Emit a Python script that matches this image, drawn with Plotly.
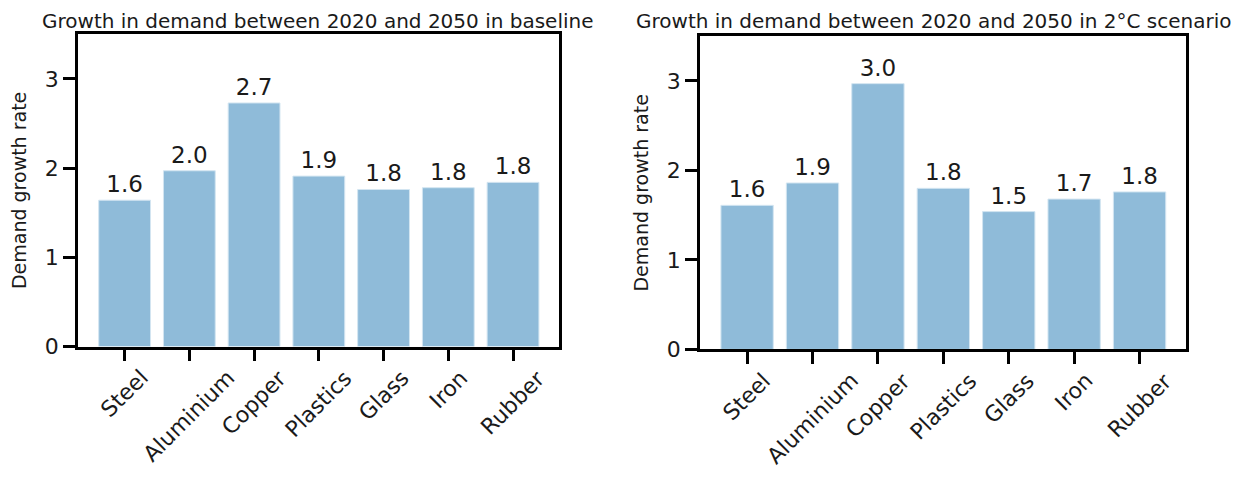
import plotly.graph_objects as go

categories = ["Steel", "Aluminium", "Copper", "Plastics", "Glass", "Iron", "Rubber"]
baseline = [1.64, 1.97, 2.73, 1.91, 1.76, 1.78, 1.84]
two_degree = [1.61, 1.86, 2.97, 1.80, 1.54, 1.68, 1.76]
panel_titles = [
    "Growth in demand between 2020 and 2050 in baseline",
    "Growth in demand between 2020 and 2050 in 2°C scenario",
]
y_ticks = [0, 1, 2, 3]
y_label = "Demand growth rate"

W, H = 1239, 477
FONT = "DejaVu Sans"
BAR_COLOR = "#8fbbd9"
TXT = "#1a1a1a"

# panel geometry in pixels: (left, right, top, bottom, title centre)
panels = [(70, 551, 27, 348, 310), (692, 1178, 29, 351, 925)]

fig = go.Figure()
series = [baseline, two_degree]
for i, vals in enumerate(series):
    sfx = "" if i == 0 else str(i + 1)
    fig.add_trace(go.Bar(
        x=categories, y=vals, xaxis="x" + sfx, yaxis="y" + sfx,
        width=0.8,
        marker=dict(color=BAR_COLOR, line=dict(color="#d3e5f1", width=1)),
        texttemplate="%{y:.1f}", textposition="outside", cliponaxis=False,
        constraintext="none",
        textfont=dict(family=FONT, size=23, color=TXT),
        showlegend=False, hoverinfo="skip",
    ))
    l, r, t, b, tc = panels[i]
    axis_common = dict(showline=True, linecolor="black", linewidth=2.5, mirror=True,
                       showgrid=False, zeroline=False, ticks="outside",
                       tickwidth=2.5, tickcolor="black", ticklen=12)
    fig.update_layout(**{
        "xaxis" + sfx: dict(domain=[l / W, r / W], range=[-0.72, 6.71],
                            anchor="y" + sfx, showticklabels=False,
                            **axis_common),
        "yaxis" + sfx: dict(domain=[1 - b / H, 1 - t / H], range=[0, 3.5],
                            anchor="x" + sfx, tickvals=y_ticks,
                            tickfont=dict(family=FONT, size=22, color=TXT),
                            title=dict(text=y_label, standoff=14,
                                       font=dict(family=FONT, size=19, color=TXT)),
                            **axis_common),
    })
    for c in categories:
        fig.add_annotation(x=c, y=0, xref="x" + sfx, yref="y" + sfx,
                           text=c, textangle=-45, showarrow=False,
                           xanchor="center", yanchor="top", yshift=-16,
                           font=dict(family=FONT, size=22, color=TXT))
    fig.add_annotation(x=tc / W, y=1 - 13 / H, xref="paper", yref="paper",
                       text=panel_titles[i], showarrow=False,
                       xanchor="center", yanchor="middle",
                       font=dict(family=FONT, size=20, color=TXT))

fig.update_layout(width=W, height=H, margin=dict(l=0, r=0, t=0, b=0),
                  paper_bgcolor="white", plot_bgcolor="white",
                  font=dict(family=FONT), bargap=0.2)

fig.write_html("out.html")
